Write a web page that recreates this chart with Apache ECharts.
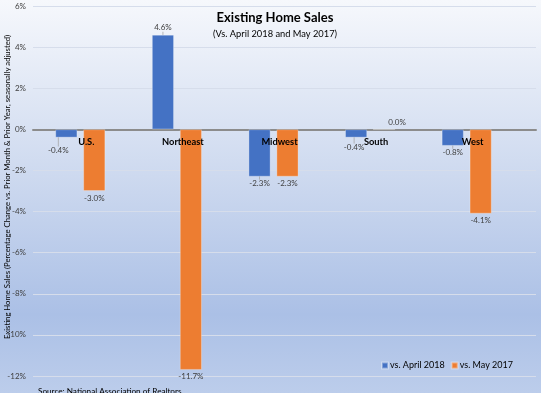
<!DOCTYPE html>
<html><head><meta charset="utf-8">
<script src="https://cdn.jsdelivr.net/npm/echarts@6/dist/echarts.min.js"></script>
<style>html,body{margin:0;padding:0;}#c{width:541px;height:393px;}</style>
</head><body><div id="c"></div>
<script>
const categories = ['U.S.', 'Northeast', 'Midwest', 'South', 'West'];
const vsApril2018 = [-0.4, 4.6, -2.3, -0.4, -0.8];
const vsMay2017 = [-3.0, -11.7, -2.3, 0.0, -4.1];
const seriesNames = ['vs. April 2018', 'vs. May 2017'];
const yTicks = [-12, -10, -8, -6, -4, -2, 0, 2, 4, 6];
const titleText = 'Existing Home Sales';
const subtitleText = '(Vs. April 2018 and May 2017)';
const yAxisTitle = 'Existing Home Sales (Percentage Change vs. Prior Month & Prior Year, seasonally adjusted)';
const sourceText = 'Source: National Association of Realtors';

const FONT = 'Lato';
const GRID_TOP = 6;
const chart = echarts.init(document.getElementById('c'));

function mkData(vals, special) {
  return vals.map((v, i) => {
    const item = { value: v, label: { position: v >= 0 ? 'top' : 'bottom' } };
    if (special[i]) Object.assign(item.label, special[i]);
    return item;
  });
}

const labelBase = {
  show: true, fontFamily: FONT, fontSize: 8, color: '#404040', distance: 3,
  formatter: p => p.value.toFixed(1) + '%'
};

chart.setOption({
  backgroundColor: {
    type: 'linear', x: 0, y: 0, x2: 0, y2: 1,
    colorStops: [
      { offset: 0, color: '#f6f8fc' },
      { offset: 0.45, color: '#cdd9ef' },
      { offset: 0.8, color: '#abc0e6' },
      { offset: 1, color: '#bccdeb' }
    ]
  },
  title: [
    { text: titleText, left: 270, top: 6, textAlign: 'center',
      textStyle: { fontFamily: FONT, fontSize: 13, fontWeight: 'bold', color: '#000' } },
    { text: subtitleText, left: 270, top: 24, textAlign: 'center',
      textStyle: { fontFamily: FONT, fontSize: 9.3, fontWeight: 'normal', color: '#000' } },
    { text: sourceText, left: 33, top: 382,
      textStyle: { fontFamily: FONT, fontSize: 8.2, fontWeight: 'normal', color: '#000' } }
  ],
  graphic: [
    { type: 'text', x: 8, y: 187, rotation: Math.PI / 2,
      style: { text: yAxisTitle, fontFamily: FONT, fontSize: 7.7, fill: '#000',
        align: 'center', verticalAlign: 'middle' } }
  ],
  legend: {
    data: seriesNames, right: 23, top: 356, itemWidth: 6, itemHeight: 6, itemGap: 6,
    icon: 'rect',
    textStyle: { fontFamily: FONT, fontSize: 9, color: '#000', padding: [0, 0, 0, -3] }
  },
  grid: [
    { left: 32, width: 483, top: GRID_TOP, bottom: 17, containLabel: false, outerBoundsMode: 'none' },
    { left: 33, right: 5, top: GRID_TOP, bottom: 17, containLabel: false, outerBoundsMode: 'none' }
  ],
  xAxis: [
    { gridIndex: 0, type: 'category', data: categories, z: 5, position: 'top', offset: 0,
      axisLine: { show: false, onZero: false },
      axisTick: { show: false },
      axisLabel: { inside: true, fontFamily: FONT, fontSize: 9.3, fontWeight: 'bold', color: '#000', margin: 8,
        padding: [0, 0, 0, 12] } },
    { gridIndex: 1, type: 'value', min: 0, max: 1, show: true,
      axisLine: { show: true, onZero: true, lineStyle: { color: '#8c8c8c', width: 2 } },
      axisTick: { show: false }, axisLabel: { show: false }, splitLine: { show: false } }
  ],
  yAxis: [
    { gridIndex: 0, type: 'value', min: yTicks[0], max: yTicks[yTicks.length - 1], interval: 2,
      show: true, axisLine: { show: false }, axisTick: { show: false },
      axisLabel: { show: false }, splitLine: { show: false } },
    { gridIndex: 1, type: 'value', min: yTicks[0], max: yTicks[yTicks.length - 1], interval: 2,
      axisLine: { show: false }, axisTick: { show: false },
      axisLabel: { fontFamily: FONT, fontSize: 8, color: '#404040', margin: 7, formatter: '{value}%' },
      splitLine: { lineStyle: { color: '#d6ddeb', width: 1.2 } } }
  ],
  series: [
    { name: seriesNames[0], type: 'bar', xAxisIndex: 0, yAxisIndex: 0,
      barWidth: 22, barGap: '27%',
      itemStyle: { color: '#4472c4', borderColor: 'rgba(255,255,255,0.35)', borderWidth: 0.8 },
      label: labelBase,
      labelLine: { show: true, lineStyle: { color: '#a6a6a6', width: 0.8 } },
      labelLayout: p => {
        if (p.dataIndex === 0) return { dx: -8, dy: 6 };
        if (p.dataIndex === 3) return { dx: -2, dy: 3 };
        return {};
      },
      data: mkData(vsApril2018, {}) },
    { name: seriesNames[1], type: 'bar', xAxisIndex: 0, yAxisIndex: 0,
      barWidth: 22,
      itemStyle: { color: '#ed7d31', borderColor: 'rgba(255,255,255,0.35)', borderWidth: 0.8 },
      label: labelBase,
      data: mkData(vsMay2017, { 3: { offset: [13, 0] } }) }
  ]
});

// Move the category axis (labels) to the zero line, using the library's own scale
const zeroY = chart.convertToPixel({ yAxisIndex: 0 }, 0);
chart.setOption({ xAxis: [{ offset: -(zeroY - GRID_TOP) }, {}] });
</script></body></html>
